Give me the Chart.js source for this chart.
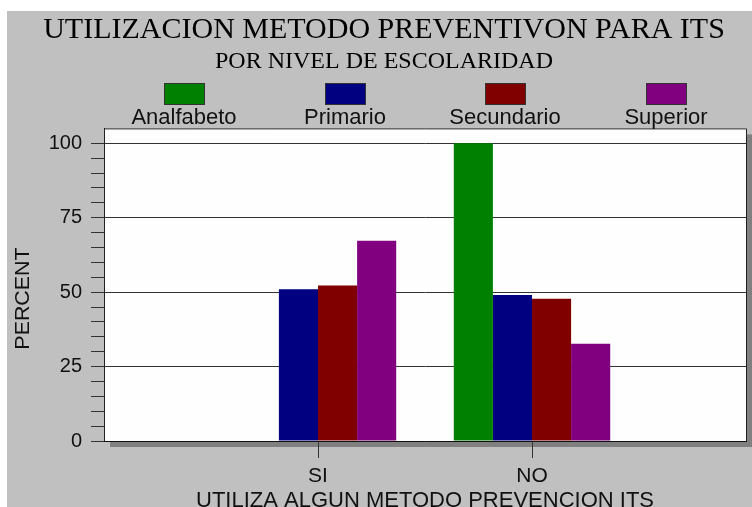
<!DOCTYPE html>
<html><head><meta charset="utf-8">
<script src="https://cdn.jsdelivr.net/npm/chart.js@4.4.1/dist/chart.umd.min.js"></script>
<style>html,body{margin:0;padding:0;background:#fff;overflow:hidden}canvas{display:block}</style>
</head><body>
<canvas id="c" width="752" height="507"></canvas>
<script>
// ---- data ----
const categories = ['', 'SI', 'NO', ''];
const seriesNames = ['Analfabeto', 'Primario', 'Secundario', 'Superior'];
const analfabeto = [null, 0, 100, null];
const primario   = [null, 51, 49, null];
const secundario = [null, 52.2, 47.8, null];
const superior   = [null, 67.3, 32.7, null];
const yTickLabels = [0, 25, 50, 75, 100];
const titleText = 'UTILIZACION METODO PREVENTIVON PARA ITS';
const subtitleText = 'POR NIVEL DE ESCOLARIDAD';
const xTitle = 'UTILIZA ALGUN METODO PREVENCION ITS';
const yTitle = 'PERCENT';

// ---- style ----
const seriesColors = ['#008000', '#000080', '#800000', '#800080'];
const SANS = "'Liberation Sans', Arial, sans-serif";
const SERIF = "'Liberation Serif', 'Times New Roman', serif";

const decor = {
  id: 'decor',
  beforeDraw(chart) {
    const {ctx, chartArea: a, width, height} = chart;
    ctx.save();
    ctx.fillStyle = '#ffffff'; ctx.fillRect(0, 0, width, height);
    ctx.fillStyle = '#c0c0c0'; ctx.fillRect(7, 11, width - 7, height - 11);
    ctx.fillStyle = '#808080';
    ctx.fillRect(a.left + 6, a.bottom, width - (a.left + 6), 6);
    ctx.fillRect(a.right, a.top + 6, 6, a.bottom - a.top);
    ctx.fillStyle = '#fefefe';
    ctx.fillRect(a.left, a.top, a.right - a.left, a.bottom - a.top);
    ctx.restore();
  },
  afterDraw(chart) {
    const {ctx, chartArea: a} = chart;
    ctx.save();
    // plot frame
    ctx.strokeStyle = '#222'; ctx.lineWidth = 1;
    ctx.beginPath();
    ctx.moveTo(a.left + 0.5, a.bottom); ctx.lineTo(a.left + 0.5, a.top + 0.5);
    ctx.lineTo(a.right + 0.5, a.top + 0.5); ctx.lineTo(a.right + 0.5, a.bottom);
    ctx.stroke();
    // legend: box above label, items spread over plot width
    const ds = chart.data.datasets;
    const w = (a.right - a.left) / ds.length;
    ds.forEach((d, i) => {
      const cx = Math.round(a.left + (i + 0.5) * w);
      ctx.fillStyle = d.backgroundColor;
      ctx.fillRect(cx - 20, 83, 40, 21);
      ctx.strokeStyle = '#333';
      ctx.strokeRect(cx - 20 + 0.5, 83.5, 40, 21);
      ctx.fillStyle = '#111';
      ctx.font = '22px ' + SANS;
      ctx.textAlign = 'center'; ctx.textBaseline = 'alphabetic';
      ctx.fillText(d.label, cx, 124);
    });
    // y axis title
    ctx.translate(23, 298.5);
    ctx.rotate(-Math.PI / 2);
    ctx.scale(1.07, 1);
    ctx.font = '20px ' + SANS;
    ctx.fillStyle = '#111';
    ctx.textAlign = 'center'; ctx.textBaseline = 'middle';
    ctx.fillText(yTitle, 0, 0);
    ctx.restore();
  }
};

const datasets = [analfabeto, primario, secundario, superior].map((vals, i) => ({
  label: seriesNames[i],
  data: vals,
  backgroundColor: seriesColors[i],
  borderWidth: 0,
  categoryPercentage: 0.731,
  barPercentage: 1.0
}));

new Chart(document.getElementById('c'), {
  type: 'bar',
  data: { labels: categories, datasets },
  plugins: [decor],
  options: {
    responsive: false,
    animation: false,
    devicePixelRatio: 1,
    layout: { padding: { left: 18, right: 2, top: 0, bottom: 0 } },
    plugins: {
      legend: { display: false },
      tooltip: { enabled: false },
      title: {
        display: true, text: titleText, color: '#000',
        font: { family: SERIF, size: 30, weight: 'normal', lineHeight: 1.1 },
        padding: { top: 14, bottom: 0 }
      },
      subtitle: {
        display: true, text: subtitleText, color: '#000',
        font: { family: SERIF, size: 24, weight: 'normal', lineHeight: 1.1 },
        padding: { top: 2, bottom: 53 }
      }
    },
    scales: {
      x: {
        offset: false,
        afterFit(s) { s.height = 66; },
        grid: {
          offset: false,
          drawOnChartArea: false, drawTicks: true, tickLength: 17,
          tickColor: ctx => (categories[ctx.index] ? '#333' : 'rgba(0,0,0,0)')
        },
        border: { display: true, color: '#111', width: 1 },
        ticks: { color: '#111', font: { family: SANS, size: 21 }, padding: 6, autoSkip: false, maxRotation: 0 },
        title: {
          display: true, text: xTitle, color: '#111',
          font: { family: SANS, size: 22, lineHeight: 1 },
          padding: { top: 0, bottom: -4.5 }
        }
      },
      y: {
        min: 0, max: 105,
        afterFit(s) { s.width = 86; },
        grid: {
          drawTicks: true, tickLength: 13,
          color: ctx => (ctx.tick && yTickLabels.includes(ctx.tick.value) && ctx.tick.value > 0 ? '#333' : 'rgba(0,0,0,0)'),
          tickColor: ctx => (ctx.tick && ctx.tick.value <= 100 ? '#333' : 'rgba(0,0,0,0)')
        },
        border: { display: true, color: '#111', width: 1 },
        ticks: {
          stepSize: 5, autoSkip: false, padding: 9, color: '#111',
          font: { family: SANS, size: 20 },
          callback: v => (yTickLabels.includes(v) ? String(v) : '')
        },
        title: { display: false }
      }
    }
  }
});
</script>
</body></html>
